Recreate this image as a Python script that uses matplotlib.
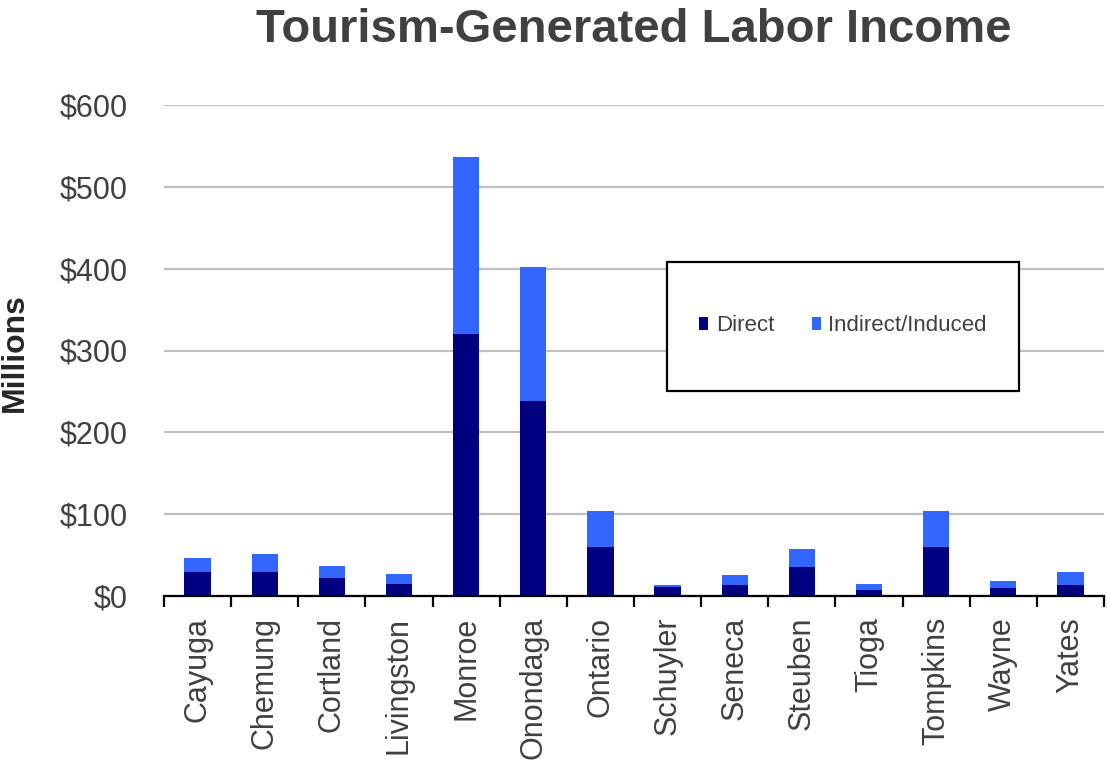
import matplotlib.pyplot as plt
import numpy as np
from matplotlib.patches import Rectangle

plt.rcParams['font.family'] = ['Liberation Sans', 'DejaVu Sans']

# data ($ millions)
counties = ['Cayuga', 'Chemung', 'Cortland', 'Livingston', 'Monroe', 'Onondaga',
            'Ontario', 'Schuyler', 'Seneca', 'Steuben', 'Tioga', 'Tompkins',
            'Wayne', 'Yates']
direct = [29, 29, 22, 15, 320, 238, 60, 10.5, 14, 36, 7.5, 60, 10, 14]
indirect = [18, 22, 15, 11.5, 217, 164, 44, 3.5, 11.5, 21, 7, 44, 8, 15]
yticks = [0, 100, 200, 300, 400, 500, 600]
ytick_labels = ['$0', '$100', '$200', '$300', '$400', '$500', '$600']

txt = '#404040'
fig = plt.figure(figsize=(11.07, 7.65), dpi=100)
ax = fig.add_axes([164 / 1107, 169 / 765, 940 / 1107, 491 / 765])

x = np.arange(len(counties))
ax.bar(x, direct, width=0.39, color='#000080', label='Direct', zorder=3)
ax.bar(x, indirect, width=0.39, bottom=direct, color='#3366FF',
       label='Indirect/Induced', zorder=3)

ax.set_xlim(-0.5, len(counties) - 0.5)
ax.set_ylim(0, 600)
ax.set_yticks(yticks)
ax.set_yticklabels(ytick_labels)
ax.tick_params(axis='y', length=0, pad=26, labelsize=22, labelcolor=txt)
ax.yaxis.grid(True, color='#C0C0C0', linewidth=1.6, zorder=0)

ax.set_xticks(x)
ax.set_xticklabels(counties, rotation=90)
ax.tick_params(axis='x', which='major', length=0, pad=15, labelsize=22,
               labelcolor=txt)
ax.set_xticks(np.arange(-0.5, len(counties)), minor=True)
ax.tick_params(axis='x', which='minor', length=8, width=1.6, color='black')

for s in ['top', 'right', 'left']:
    ax.spines[s].set_visible(False)
ax.spines['bottom'].set_linewidth(1.6)
ax.spines['bottom'].set_zorder(4)

# legend box
ax.add_patch(Rectangle((0.5348, 0.4175), 0.3748, 0.2621, transform=ax.transAxes,
                       facecolor='white', edgecolor='black', linewidth=1.6,
                       zorder=5))
leg = ax.legend(loc='center', bbox_to_anchor=(0.7223, 0.55), ncol=2,
                frameon=False, fontsize=16, handlelength=0.4,
                handleheight=0.55, handletextpad=0.35, columnspacing=1.7)
leg.set_zorder(6)
for t in leg.get_texts():
    t.set_color(txt)

fig.text(634 / 1107, 1 - 42 / 765, 'Tourism-Generated Labor Income',
         ha='center', va='baseline', fontsize=34, fontweight='bold', color=txt)
fig.text(15 / 1107, 1 - 353 / 765, 'Millions', rotation=90, ha='center',
         va='center', fontsize=23, fontweight='bold', color='#262626')

fig.savefig('out.png', dpi=100)
